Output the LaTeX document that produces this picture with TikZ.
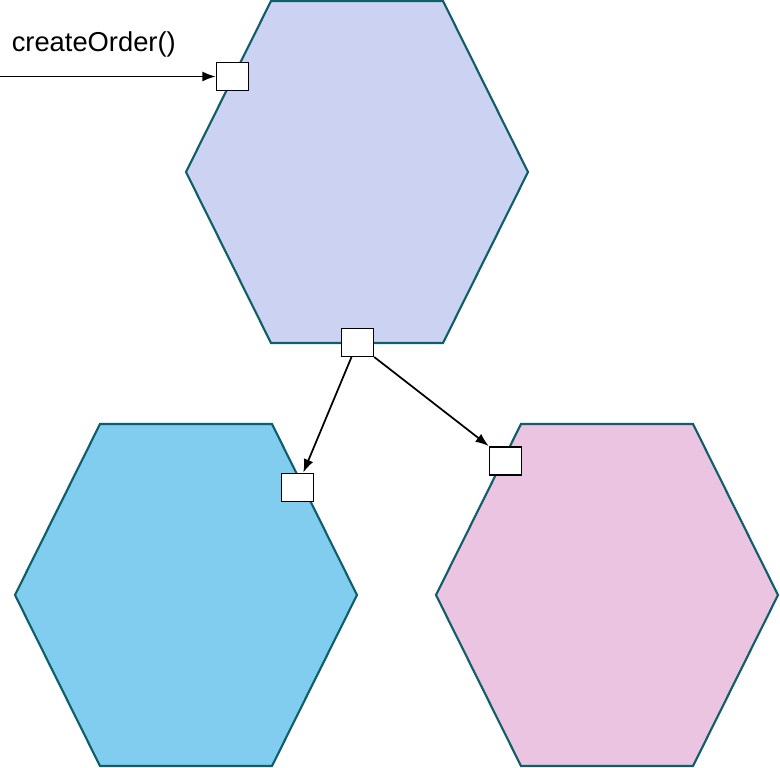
\documentclass[tikz,border=0pt]{standalone}
\usepackage{fontspec}
\setmainfont{Liberation Sans}
\usetikzlibrary{arrows.meta}
\definecolor{topfill}{HTML}{CCD3F2}
\definecolor{leftfill}{HTML}{80CDF0}
\definecolor{rightfill}{HTML}{EAC4E0}
\definecolor{hexline}{HTML}{0F5E69}
\tikzset{
  hexa/.style={draw=hexline, line width=1.6pt, line join=miter},
  port/.style={draw=black, fill=white, line width=1.1pt, minimum width=24pt, minimum height=21pt, inner sep=0pt},
  call/.style={-{Latex[length=10pt, width=7.5pt]}, line width=1.3pt, black}
}
\begin{document}
\begin{tikzpicture}[x=0.75pt, y=-0.75pt]
            \useasboundingbox (0,0) rectangle (780,767);
            % hexagons
            \foreach \cx/\cy/\col in {357/172/topfill, 186/595/leftfill, 607/595/rightfill}
                \draw[hexa, fill=\col] (\cx-171,\cy) -- (\cx-86,\cy-171) -- (\cx+86,\cy-171) -- (\cx+171,\cy) -- (\cx+86,\cy+171) -- (\cx-86,\cy+171) -- cycle;
            % ports
            \node[port] (entry) at (232.5,76.5) {};
            \node[port] (order) at (357.5,342.3) {};
            \node[port] (left) at (297.3,487.3) {};
            \node[port] (right) at (505.5,460.8) {};
            \coordinate (caller) at (0,76.5);
            \node[anchor=base west, inner sep=0pt, font=\fontsize{20.5}{24}\selectfont] (label) at (11.5,51.7) {createOrder()};
            % calls
            \draw[call] (caller) -- (entry.west);
            \draw[call] ([xshift=-4.5pt]order.south) -- ([xshift=4.5pt]left.north);
            \draw[call] (order.south east) -- (right.north west);
      \end{tikzpicture}
\end{document}
